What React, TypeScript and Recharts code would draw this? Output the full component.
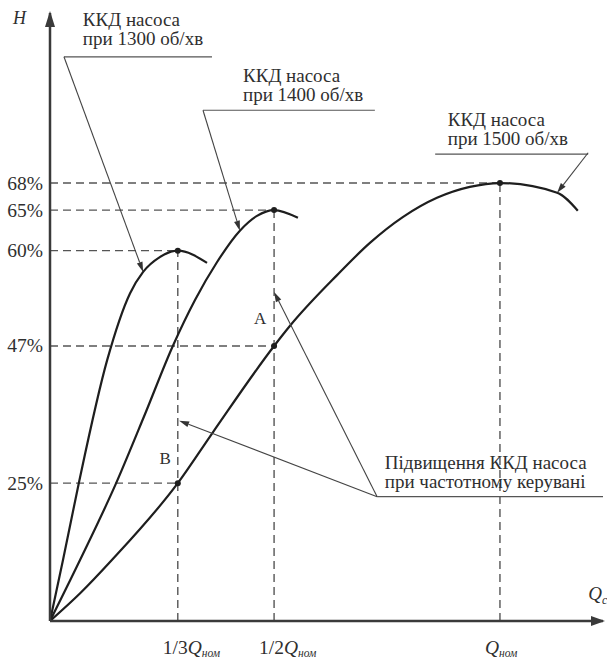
import React from 'react';
import { LineChart, Line, XAxis, YAxis, ReferenceLine, ReferenceDot } from 'recharts';

// Схема: x — у частках Q_ном, y — ККД у «намальованих» одиницях осі H
const X_MAX = 1.229;
const Y_MAX = 94.4;

const curve1300 = [
  { x: 0, y: 0 }, { x: 0.029, y: 9.5 }, { x: 0.064, y: 21.4 }, { x: 0.127, y: 40.5 },
  { x: 0.178, y: 50.9 }, { x: 0.207, y: 54.2 }, { x: 0.244, y: 56.5 }, { x: 0.284, y: 57.5 },
  { x: 0.349, y: 55.6 },
];

const curve1400 = [
  { x: 0, y: 0 }, { x: 0.067, y: 9.5 }, { x: 0.147, y: 21.4 }, { x: 0.211, y: 32.1 },
  { x: 0.273, y: 42.7 }, { x: 0.322, y: 49.8 }, { x: 0.371, y: 55.7 }, { x: 0.422, y: 60.6 },
  { x: 0.46, y: 62.9 }, { x: 0.498, y: 63.8 }, { x: 0.551, y: 62.6 },
];

const curve1500 = [
  { x: 0, y: 0 }, { x: 0.067, y: 4.3 }, { x: 0.138, y: 9.5 }, { x: 0.284, y: 21.4 },
  { x: 0.362, y: 29.3 }, { x: 0.498, y: 42.7 }, { x: 0.533, y: 45.8 }, { x: 0.638, y: 53.7 },
  { x: 0.711, y: 58.7 }, { x: 0.784, y: 62.7 }, { x: 0.86, y: 65.7 }, { x: 0.933, y: 67.4 },
  { x: 1, y: 68 }, { x: 1.127, y: 66.5 }, { x: 1.173, y: 63.7 },
];

const yTicks = [21.4, 42.7, 57.5, 63.8, 68];
const yTickLabels = ['25%', '47%', '60%', '65%', '68%'];

const xTicks = [0.284, 0.498, 1];
const xTickLabels = ['1/3', '1/2', ''];

// підписи та виноски
const captions = [
  { x: 0.073, y: 92.4, lines: ['ККД насоса', 'при 1300 об/хв'] },
  { x: 0.429, y: 83.7, lines: ['ККД насоса', 'при 1400 об/хв'] },
  { x: 0.884, y: 76.9, lines: ['ККД насоса', 'при 1500 об/хв'] },
  { x: 0.744, y: 23.6, lines: ['Підвищення ККД насоса', 'при частотному керувані'] },
];

const underlines = [
  { x1: 0.031, x2: 0.36, y: 87.6 },
  { x1: 0.34, x2: 0.722, y: 79.3 },
  { x1: 0.856, x2: 1.196, y: 72.5 },
  { x1: 0.727, x2: 1.229, y: 19.3 },
];

const pointers = [
  { from: { x: 0.031, y: 87.6 }, to: { x: 0.207, y: 54.2 } },
  { from: { x: 0.34, y: 79.3 }, to: { x: 0.422, y: 60.6 } },
  { from: { x: 1.196, y: 72.7 }, to: { x: 1.127, y: 66.5 } },
  { from: { x: 0.727, y: 19.3 }, to: { x: 0.287, y: 31.1 } },
  { from: { x: 0.727, y: 19.3 }, to: { x: 0.498, y: 51.1 } },
];

const pointLabels = [
  { x: 0.467, y: 47.0, text: 'А' },
  { x: 0.256, y: 25.3, text: 'В' },
];

const FONT = "'Liberation Serif', 'Times New Roman', serif";
const TEXT = '#2f2f2f';

const peakOf = (c: { x: number; y: number }[]) => c.reduce((a, b) => (b.y > a.y ? b : a));
const peaks = [curve1300, curve1400, curve1500].map(peakOf);
const onCurve1500 = peaks.slice(0, 2).map((p) => curve1500.find((q) => q.x === p.x)!);

const dash = { stroke: '#555', strokeWidth: 1.4, strokeDasharray: '8 5' };

const arrowShape = (p: any) => {
  const { x1, y1, x2, y2 } = p;
  const a = Math.atan2(y2 - y1, x2 - x1);
  const len = 10;
  const w = 3;
  const bx = x2 - len * Math.cos(a);
  const by = y2 - len * Math.sin(a);
  const pts = `${x2},${y2} ${bx - w * Math.sin(a)},${by + w * Math.cos(a)} ${bx + w * Math.sin(a)},${by - w * Math.cos(a)}`;
  return (
    <g>
      <line x1={x1} y1={y1} x2={bx} y2={by} stroke="#444" strokeWidth={1.1} />
      <polygon points={pts} fill="#333" />
    </g>
  );
};

const YTick = (props: any) => {
  const { x, y, payload } = props;
  return (
    <text x={x + 1} y={y} dy={6.5} textAnchor="end" fontSize={19.5} fill={TEXT} fontFamily={FONT}>
      {yTickLabels[yTicks.indexOf(payload.value)]}
    </text>
  );
};

const XTick = (props: any) => {
  const { x, y, payload } = props;
  const prefix = xTickLabels[xTicks.indexOf(payload.value)];
  return (
    <text x={x - 15} y={y + 25} textAnchor="start" fontSize={19.5} fill={TEXT} fontFamily={FONT}>
      <tspan>{prefix}</tspan>
      <tspan fontStyle="italic">Q</tspan>
      <tspan fontStyle="italic" fontSize={11.5} dy={3}>ном</tspan>
    </text>
  );
};

export default function App() {
  return (
    <div style={{ position: 'absolute', left: 0, top: 0, width: 607, height: 664, background: '#fff' }}>
      <LineChart width={607} height={664} margin={{ top: 13, right: 4, bottom: 0, left: 0 }}>
        <XAxis
          type="number"
          dataKey="x"
          domain={[0, X_MAX]}
          allowDataOverflow
          ticks={xTicks}
          tick={<XTick />}
          tickLine={false}
          height={43}
          axisLine={{ stroke: '#3a3a3a', strokeWidth: 2.5 }}
        />
        <YAxis
          type="number"
          dataKey="y"
          domain={[0, Y_MAX]}
          allowDataOverflow
          ticks={yTicks}
          tick={<YTick />}
          tickLine={false}
          width={50}
          axisLine={{ stroke: '#3a3a3a', strokeWidth: 2.5 }}
        />

        {peaks.map((p, i) => (
          <ReferenceLine key={`ph${i}`} segment={[{ x: 0, y: p.y }, { x: p.x, y: p.y }]} {...dash} />
        ))}
        {peaks.map((p, i) => (
          <ReferenceLine key={`pv${i}`} segment={[{ x: p.x, y: 0 }, { x: p.x, y: p.y }]} {...dash} />
        ))}
        {onCurve1500.map((p, i) => (
          <ReferenceLine key={`ah${i}`} segment={[{ x: 0, y: p.y }, { x: p.x, y: p.y }]} {...dash} />
        ))}

        <Line data={curve1300} dataKey="y" type="monotone" dot={false} stroke="#1e1e1e" strokeWidth={2.2} isAnimationActive={false} />
        <Line data={curve1400} dataKey="y" type="monotone" dot={false} stroke="#1e1e1e" strokeWidth={2.2} isAnimationActive={false} />
        <Line data={curve1500} dataKey="y" type="monotone" dot={false} stroke="#1e1e1e" strokeWidth={2.2} isAnimationActive={false} />

        {[...peaks, ...onCurve1500].map((p, i) => (
          <ReferenceDot key={`d${i}`} x={p.x} y={p.y} r={3} fill="#1e1e1e" stroke="none" />
        ))}

        {underlines.map((u, i) => (
          <ReferenceLine key={`u${i}`} segment={[{ x: u.x1, y: u.y }, { x: u.x2, y: u.y }]} stroke="#555" strokeWidth={1.2} />
        ))}
        {pointers.map((p, i) => (
          <ReferenceLine key={`a${i}`} segment={[p.from, p.to]} shape={arrowShape} />
        ))}

        {captions.map((c, i) => (
          <ReferenceDot
            key={`c${i}`}
            x={c.x}
            y={c.y}
            r={0}
            ifOverflow="visible"
            shape={(p: any) => (
              <text x={p.cx} y={p.cy} fontSize={19} fill={TEXT} fontFamily={FONT}>
                {c.lines.map((l, j) => (
                  <tspan key={j} x={p.cx} dy={j === 0 ? 0 : 19}>{l}</tspan>
                ))}
              </text>
            )}
          />
        ))}

        {pointLabels.map((l, i) => (
          <ReferenceDot
            key={`l${i}`}
            x={l.x}
            y={l.y}
            r={0}
            shape={(p: any) => (
              <text x={p.cx} y={p.cy} dy={6} textAnchor="middle" fontSize={17} fill={TEXT} fontFamily={FONT}>{l.text}</text>
            )}
          />
        ))}

        {/* стрілки осей */}
        <ReferenceDot
          x={0}
          y={Y_MAX}
          r={0}
          ifOverflow="visible"
          shape={(p: any) => <polygon points={`${p.cx},${p.cy - 2} ${p.cx - 5},${p.cy + 14} ${p.cx + 5},${p.cy + 14}`} fill="#3a3a3a" />}
        />
        <ReferenceDot
          x={X_MAX}
          y={0}
          r={0}
          ifOverflow="visible"
          shape={(p: any) => <polygon points={`${p.cx + 2},${p.cy} ${p.cx - 12},${p.cy - 5} ${p.cx - 12},${p.cy + 5}`} fill="#3a3a3a" />}
        />

        <ReferenceDot
          x={-0.082}
          y={92.7}
          r={0}
          ifOverflow="visible"
          shape={(p: any) => (
            <text x={p.cx} y={p.cy} fontSize={18} fontStyle="italic" fill={TEXT} fontFamily={FONT}>H</text>
          )}
        />
        <ReferenceDot
          x={1.196}
          y={3.3}
          r={0}
          ifOverflow="visible"
          shape={(p: any) => (
            <text x={p.cx} y={p.cy} fontSize={19} fontStyle="italic" fill={TEXT} fontFamily={FONT}>
              Q<tspan fontSize={12} dy={4}>c</tspan>
            </text>
          )}
        />
      </LineChart>
    </div>
  );
}
